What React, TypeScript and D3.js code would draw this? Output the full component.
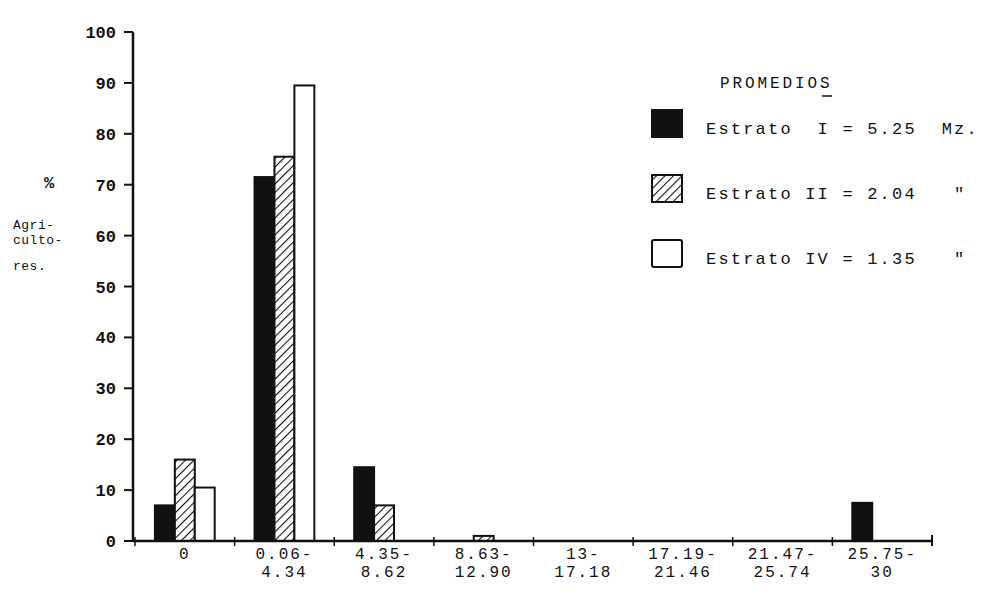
import * as React from 'react';
import * as d3 from 'd3';

const rangeTop = ['0', '0.06-', '4.35-', '8.63-', '13-', '17.19-', '21.47-', '25.75-'];
const rangeBottom = ['', '4.34', '8.62', '12.90', '17.18', '21.46', '25.74', '30'];
const seriesNames = ['Estrato I', 'Estrato II', 'Estrato IV'];
const estratoI = [7, 71.5, 14.5, 0, 0, 0, 0, 7.5];
const estratoII = [16, 75.5, 7, 1, 0, 0, 0, 0];
const estratoIV = [10.5, 89.5, 0, 0, 0, 0, 0, 0];
const legendLabels = ['Estrato  I = 5.25  Mz.', 'Estrato II = 2.04   "', 'Estrato IV = 1.35   "'];
const yTicks = d3.range(0, 101, 10);

const ink = '#111';
const font = '"Liberation Mono", "DejaVu Sans Mono", monospace';

export default function App() {
  const width = 990, height = 592;
  const x = d3.scaleBand<string>().domain(rangeTop).range([135, 932]);
  const x1 = d3.scaleBand<string>().domain(seriesNames)
    .range([x.bandwidth() * 0.2, x.bandwidth() * 0.8]);
  const y = d3.scaleLinear().domain([0, 100]).range([541, 32]);
  const values = [estratoI, estratoII, estratoIV];
  const fills = [ink, 'url(#hatch)', '#fff'];

  return (
    <svg width={width} height={height} style={{ position: 'absolute', left: 0, top: 0, background: '#fff' }}>
      <defs>
        <pattern id="hatch" patternUnits="userSpaceOnUse" width="6" height="6" patternTransform="rotate(45)">
          <rect width="6" height="6" fill="#fff" />
          <line x1="0" y1="0" x2="0" y2="6" stroke={ink} strokeWidth="2.2" />
        </pattern>
      </defs>

      {/* bars */}
      {values.map((vals, s) => vals.map((v, i) => v > 0 && (
        <rect key={s + '-' + i}
          x={(x(rangeTop[i]) as number) + (x1(seriesNames[s]) as number)}
          y={y(v)} width={x1.bandwidth()} height={y(0) - y(v)}
          fill={fills[s]} stroke={ink} strokeWidth={2} />
      )))}

      {/* y axis */}
      <line x1={133} x2={133} y1={y(100)} y2={y(0)} stroke={ink} strokeWidth={2.5} />
      {yTicks.map(t => (
        <g key={t}>
          <line x1={124} x2={133} y1={y(t)} y2={y(t)} stroke={ink} strokeWidth={2} />
          <text x={116} y={y(t) + 6} textAnchor="end" fontFamily={font} fontSize={17} fontWeight="bold" fill={ink}>{t}</text>
        </g>
      ))}

      {/* x axis */}
      <line x1={133} x2={932} y1={y(0)} y2={y(0)} stroke={ink} strokeWidth={2.5} />
      {rangeTop.map(c => (
        <line key={c} x1={x(c)} x2={x(c)} y1={y(0) - 4} y2={y(0) + 5} stroke={ink} strokeWidth={1.5} />
      ))}
      <line x1={932} x2={932} y1={y(0) - 6} y2={y(0) + 5} stroke={ink} strokeWidth={2} />
      {rangeTop.map((c, i) => {
        const cx = (x(c) as number) + x.bandwidth() / 2;
        return (
          <g key={'l' + c} fontFamily={font} fontSize={16} fill={ink} textAnchor="middle" letterSpacing={2}>
            <text x={cx} y={y(0) + 18}>{c}</text>
            <text x={cx} y={y(0) + 36}>{rangeBottom[i]}</text>
          </g>
        );
      })}

      {/* y title */}
      <g fontFamily={font} fontSize={13} fill={ink} letterSpacing={0.5}>
        <text x={44} y={188} fontSize={17} fontWeight="bold">%</text>
        <text x={13} y={229}>Agri-</text>
        <text x={13} y={244}>culto-</text>
        <text x={13} y={270}>res.</text>
      </g>

      {/* legend */}
      <g fontFamily={font} fill={ink}>
        <text x={720} y={88} fontSize={16} letterSpacing={2.9}>PROMEDIOS</text>
        <line x1={822} x2={832} y1={96} y2={96} stroke={ink} strokeWidth={1.5} />
        {legendLabels.map((l, i) => (
          <g key={l}>
            <rect x={652} y={110 + i * 65} width={30} height={27} fill={fills[i]} stroke={ink} strokeWidth={2} rx={i === 2 ? 2 : 0} />
            <text x={706} y={134 + i * 65} fontSize={17} letterSpacing={2.2} style={{ whiteSpace: 'pre' }}>{l}</text>
          </g>
        ))}
      </g>
    </svg>
  );
}
